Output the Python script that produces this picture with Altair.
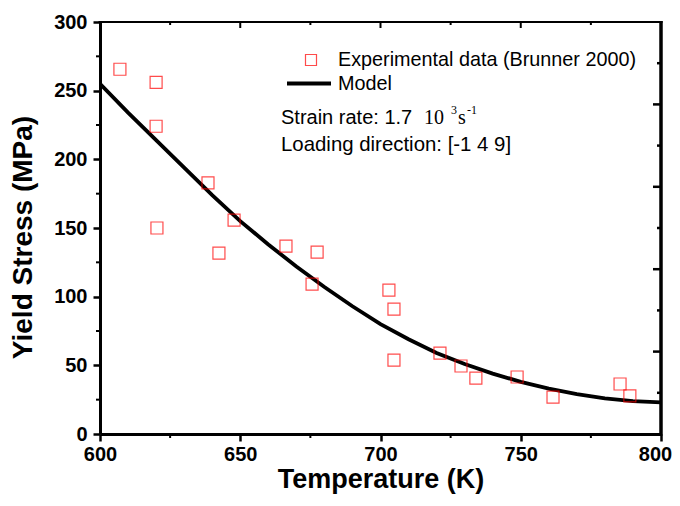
import altair as alt
import pandas as pd

# Experimental data (Brunner 2000)
exp_T = [607.1, 620.0, 620.0, 638.5, 620.3, 647.8, 642.4, 666.3, 677.4, 675.6,
         703.0, 704.8, 704.8, 721.2, 728.7, 734.0, 748.7, 761.5, 785.4, 788.9]
exp_S = [265.6, 256.1, 224.1, 182.8, 150.0, 155.7, 131.7, 136.8, 132.4, 109.1,
         104.8, 91.0, 53.8, 58.9, 49.5, 40.7, 41.5, 26.9, 36.4, 27.7]

# Model curve
model_T = [600, 610, 620, 630, 640, 650, 660, 670, 680, 690, 700,
           710, 720, 730, 740, 750, 760, 770, 780, 790, 800]
model_S = [255, 234, 214, 194, 174, 155, 138, 122, 107, 93, 80,
           69, 59, 51, 44, 38, 33, 29, 26, 24, 23]

# Tick values
x_major = [600, 650, 700, 750, 800]
x_minor = [625, 675, 725, 775]
x_top_major = [650, 700, 750]
y_major = [0, 50, 100, 150, 200, 250, 300]
y_minor = [25, 75, 125, 175, 225, 275]
right_major = [60, 120, 180, 240]
right_minor = [30, 90, 150, 210, 270]

W, H = 561, 412

model_df = pd.DataFrame({"T": model_T, "S": model_S})
exp_df = pd.DataFrame({"T": exp_T, "S": exp_S})

xs = alt.Scale(domain=[600, 800], nice=False, zero=False)
ys = alt.Scale(domain=[0, 300], nice=False, zero=False)

FONT = "Liberation Sans"

xaxis = alt.Axis(
    values=x_major, title="Temperature (K)", format="d",
    tickSize=7, tickWidth=2.5, domainWidth=3, labelPadding=3,
    titlePadding=2, titleFontSize=27, labelFlush=False, labelOverlap=False, grid=False,
    labelOffset={"condition": {"test": "datum.value >= 800", "value": -6}, "value": 0})
yaxis = alt.Axis(
    values=y_major, title="Yield Stress (MPa)", format="d",
    tickSize=7, tickWidth=2.5, domainWidth=3, labelPadding=6,
    titlePadding=16, titleY=H / 2 + 9, labelFlush=False, labelOverlap=False, grid=False)

X = lambda: alt.X("T:Q", scale=xs, axis=xaxis)
Y = lambda: alt.Y("S:Q", scale=ys, axis=yaxis)

model = alt.Chart(model_df).mark_line(color="black", strokeWidth=3.8, clip=True).encode(
    x=X(), y=Y())

points = alt.Chart(exp_df).mark_point(
    shape="square", filled=False, size=144, color="#FF0000", strokeWidth=1.2
).encode(x=X(), y=Y())

# minor ticks, bottom (outward)
bottom_minor = alt.Chart(pd.DataFrame({"T": x_minor})).mark_rule(
    color="black", strokeWidth=2).encode(
    x=X(), y=alt.value(H), y2=alt.value(H + 4))
# minor ticks, left (outward)
left_minor = alt.Chart(pd.DataFrame({"S": y_minor})).mark_rule(
    color="black", strokeWidth=2).encode(
    y=Y(), x=alt.value(0), x2=alt.value(-4))

# top frame and inward ticks
top_line = alt.Chart(pd.DataFrame({"a": [0]})).mark_rule(color="black", strokeWidth=2).encode(
    x=alt.value(-1.5), x2=alt.value(W + 1.5), y=alt.value(0))
top_major = alt.Chart(pd.DataFrame({"T": x_top_major})).mark_rule(
    color="black", strokeWidth=2).encode(
    x=X(), y=alt.value(0), y2=alt.value(6))
top_minor = alt.Chart(pd.DataFrame({"T": x_minor})).mark_rule(
    color="black", strokeWidth=2).encode(
    x=X(), y=alt.value(0), y2=alt.value(3))

# right frame and inward ticks
right_line = alt.Chart(pd.DataFrame({"a": [0]})).mark_rule(color="black", strokeWidth=3.5).encode(
    x=alt.value(W), y=alt.value(-1), y2=alt.value(H + 1.5))
right_maj = alt.Chart(pd.DataFrame({"S": right_major})).mark_rule(
    color="black", strokeWidth=2.5).encode(
    y=Y(), x=alt.value(W), x2=alt.value(W - 8))
right_min = alt.Chart(pd.DataFrame({"S": right_minor})).mark_rule(
    color="black", strokeWidth=2.5).encode(
    y=Y(), x=alt.value(W), x2=alt.value(W - 4))

# legend / annotations
one = pd.DataFrame({"a": [0]})
leg_sq = alt.Chart(one).mark_point(
    shape="square", filled=False, size=121, color="#FF0000", strokeWidth=1.2
).encode(x=alt.value(211), y=alt.value(38))
leg_exp = alt.Chart(one).mark_text(
    text="Experimental data (Brunner 2000)", font=FONT, fontSize=19.8, align="left",
    baseline="middle", color="black").encode(x=alt.value(238), y=alt.value(38))
leg_line = alt.Chart(one).mark_rule(color="black", strokeWidth=3.8).encode(
    x=alt.value(187), x2=alt.value(231), y=alt.value(61.5))
leg_model = alt.Chart(one).mark_text(
    text="Model", font=FONT, fontSize=19.8, align="left", baseline="middle",
    color="black").encode(x=alt.value(238), y=alt.value(61.5))
strain = alt.Chart(one).mark_text(
    text="Strain rate: 1.7", font=FONT, fontSize=20, align="left", baseline="alphabetic",
    color="black").encode(x=alt.value(181), y=alt.value(101.5))
ten = alt.Chart(one).mark_text(
    text="10", font="Liberation Serif", fontSize=20, align="left", baseline="alphabetic",
    color="black").encode(x=alt.value(324), y=alt.value(101.5))
sup3 = alt.Chart(one).mark_text(
    text="3", font="Liberation Serif", fontSize=12, align="left", baseline="alphabetic",
    color="black").encode(x=alt.value(351), y=alt.value(92))
s_unit = alt.Chart(one).mark_text(
    text="s", font="Liberation Serif", fontSize=20, align="left", baseline="alphabetic",
    color="black").encode(x=alt.value(358), y=alt.value(101.5))
sup_m1 = alt.Chart(one).mark_text(
    text="-1", font="Liberation Serif", fontSize=12, align="left", baseline="alphabetic",
    color="black").encode(x=alt.value(367), y=alt.value(92))
loading = alt.Chart(one).mark_text(
    text="Loading direction: [-1 4 9]", font=FONT, fontSize=20.4, align="left",
    baseline="alphabetic", color="black").encode(x=alt.value(181), y=alt.value(128.5))

chart = alt.layer(
    model, points, bottom_minor, left_minor, top_line, top_major, top_minor,
    right_line, right_maj, right_min,
    leg_sq, leg_exp, leg_line, leg_model, strain, ten, sup3, s_unit, sup_m1, loading,
).properties(
    width=W, height=H,
    autosize=alt.AutoSizeParams(type="none"),
    padding={"left": 92, "top": 14, "right": 11, "bottom": 62},
    background="white",
).configure_view(stroke=None).configure_axis(
    labelFont=FONT, labelFontWeight="bold", labelFontSize=20, labelColor="black",
    titleFont=FONT, titleFontWeight="bold", titleFontSize=28, titleColor="black",
    domainColor="black", tickColor="black",
)

chart.save("out.html", embed_options={"renderer": "svg", "actions": False})
